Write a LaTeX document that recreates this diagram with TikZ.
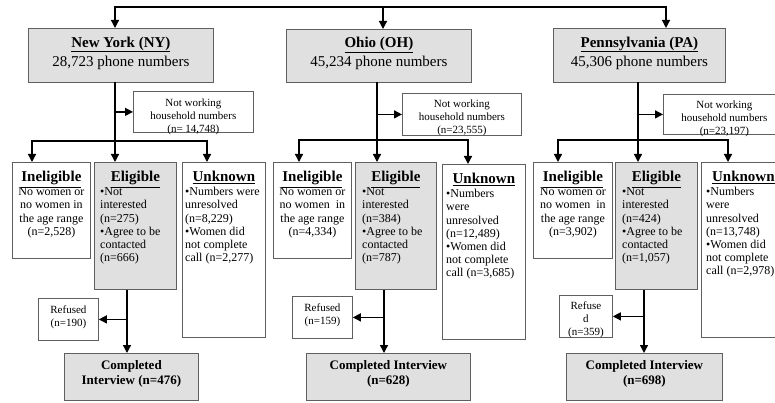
\documentclass[tikz,border=0pt]{standalone}
\usepackage{fontspec}
\setmainfont{Liberation Serif}
\usetikzlibrary{arrows.meta}
\definecolor{boxgray}{RGB}{224,224,224}
\definecolor{edgegray}{RGB}{95,95,95}
\begin{document}
\begin{tikzpicture}[x=1pt,y=-1pt,
  box/.style={draw=edgegray, line width=0.8pt, inner sep=0pt, anchor=north west},
  gbox/.style={box, fill=boxgray},
  conn/.style={line width=1.3pt, black, line cap=rect},
  arr/.style={line width=1.3pt, black, -{Triangle[length=8pt,width=8pt]}},
  ttl/.style={font=\fontsize{15}{19}\selectfont, align=center, inner sep=0pt},
  hd/.style={font=\fontsize{15}{18}\selectfont\bfseries, inner sep=0pt, anchor=base},
  bodyc/.style={font=\fontsize{12}{13.2}\selectfont, align=center, inner sep=0pt, anchor=north},
  bodyl/.style={font=\fontsize{12}{13.2}\selectfont, align=left, inner sep=0pt, anchor=north west},
  small/.style={font=\fontsize{11}{13}\selectfont, align=center, inner sep=0pt},
  done/.style={font=\fontsize{13}{15.5}\selectfont\bfseries, align=center, inner sep=0pt},
]
\useasboundingbox (0,0) rectangle (775,403);

% ---------- state boxes ----------
\node[gbox, minimum width=185pt, minimum height=54pt] (nyT) at (28,28) {};
\node[gbox, minimum width=185pt, minimum height=53pt] (ohT) at (286,29) {};
\node[gbox, minimum width=172pt, minimum height=54pt] (paT) at (553,28) {};
\node[ttl, yshift=2.5pt] (nyTt) at (nyT.center) {\textbf{\underline{New York (NY)}}\\28,723 phone numbers};
\node[ttl, yshift=2.5pt] (ohTt) at (ohT.center) {\textbf{\underline{Ohio (OH)}}\\45,234 phone numbers};
\node[ttl, yshift=2.5pt] (paTt) at (paT.center) {\textbf{\underline{Pennsylvania (PA)}}\\45,306 phone numbers};

% ---------- not working ----------
\node[box, minimum width=120pt, minimum height=41pt] (nyN) at (133,91) {};
\node[box, minimum width=119pt, minimum height=42pt] (ohN) at (402,93) {};
\node[box, minimum width=122pt, minimum height=40pt] (paN) at (663,94) {};
\node[small, yshift=-4.5pt] (nyNt) at (nyN.center) {Not working\\household numbers\\(n= 14,748)};
\node[small, yshift=-3.7pt] (ohNt) at (ohN.center) {Not working\\household numbers\\(n=23,555)};
\node[small, yshift=-4.2pt] (paNt) at (paN.center) {Not working\\household numbers\\(n=23,197)};

% ---------- NY categories ----------
\node[box, minimum width=78pt, minimum height=96pt] (nyI) at (12,162) {};
\node[gbox, minimum width=82pt, minimum height=127pt] (nyE) at (94,162) {};
\node[box, minimum width=83pt, minimum height=175pt] (nyU) at (182,162) {};
\node[hd] (nyIh) at ([yshift=-20pt]nyI.north) {\underline{Ineligible}};
\node[hd] (nyEh) at ([yshift=-20pt]nyE.north) {\underline{Eligible}};
\node[hd] (nyUh) at ([yshift=-20pt]nyU.north) {\underline{Unknown}};
\node[bodyc] (nyIb) at ([yshift=-24.3pt]nyI.north) {\strut No women or\\no women in\\the age range\\(n=2,528)};
\node[bodyl] (nyEb) at ([xshift=6pt,yshift=-24.3pt]nyE.north west) {\strut •Not\\interested\\(n=275)\\•Agree to be\\contacted\\(n=666)};
\node[bodyl] (nyUb) at ([xshift=3pt,yshift=-24.3pt]nyU.north west) {\strut •Numbers were\\unresolved\\(n=8,229)\\•Women did\\not complete\\call (n=2,277)};

% ---------- OH categories ----------
\node[box, minimum width=78pt, minimum height=96pt] (ohI) at (273,162) {};
\node[gbox, minimum width=81pt, minimum height=127pt] (ohE) at (355,162) {};
\node[box, minimum width=83pt, minimum height=175pt] (ohU) at (442,164) {};
\node[hd] (ohIh) at ([yshift=-20pt]ohI.north) {\underline{Ineligible}};
\node[hd] (ohEh) at ([yshift=-20pt]ohE.north) {\underline{Eligible}};
\node[hd] (ohUh) at ([yshift=-20pt]ohU.north) {\underline{Unknown}};
\node[bodyc] (ohIb) at ([yshift=-24.3pt]ohI.north) {\strut No women or\\no women\ \ in\\the age range\\(n=4,334)};
\node[bodyl] (ohEb) at ([xshift=7pt,yshift=-24.3pt]ohE.north west) {\strut •Not\\interested\\(n=384)\\•Agree to be\\contacted\\(n=787)};
\node[bodyl] (ohUb) at ([xshift=4pt,yshift=-24.3pt]ohU.north west) {\strut •Numbers\\were\\unresolved\\(n=12,489)\\•Women did\\not complete\\call (n=3,685)};

% ---------- PA categories ----------
\node[box, minimum width=79pt, minimum height=96pt] (paI) at (533,162) {};
\node[gbox, minimum width=82pt, minimum height=127pt] (paE) at (615,162) {};
\node[box, minimum width=84pt, minimum height=175pt] (paU) at (701,162) {};
\node[hd] (paIh) at ([yshift=-20pt]paI.north) {\underline{Ineligible}};
\node[hd] (paEh) at ([yshift=-20pt]paE.north) {\underline{Eligible}};
\node[hd] (paUh) at ([yshift=-20pt]paU.north) {\underline{Unknown}};
\node[bodyc] (paIb) at ([yshift=-24.3pt]paI.north) {\strut No women or\\no women\ \ in\\the age range\\(n=3,902)};
\node[bodyl] (paEb) at ([xshift=7pt,yshift=-24.3pt]paE.north west) {\strut •Not\\interested\\(n=424)\\•Agree to be\\contacted\\(n=1,057)};
\node[bodyl] (paUb) at ([xshift=5pt,yshift=-24.3pt]paU.north west) {\strut •Numbers\\were\\unresolved\\(n=13,748)\\•Women did\\not complete\\call (n=2,978)};

% ---------- refused ----------
\node[box, minimum width=60pt, minimum height=42pt] (nyR) at (38,298) {};
\node[box, minimum width=60pt, minimum height=42pt] (ohR) at (292,296) {};
\node[box, minimum width=53pt, minimum height=42pt] (paR) at (559,295) {};
\node[small, yshift=2.3pt] (nyRt) at (nyR.center) {Refused\\(n=190)};
\node[small, yshift=2pt] (ohRt) at (ohR.center) {Refused\\(n=159)};
\node[small, yshift=-3.5pt] (paRt) at (paR.center) {Refuse\\d\\(n=359)};

% ---------- completed ----------
\node[gbox, minimum width=134pt, minimum height=47pt] (nyD) at (64,353) {};
\node[gbox, minimum width=164pt, minimum height=47pt] (ohD) at (306,353) {};
\node[gbox, minimum width=156pt, minimum height=47pt] (paD) at (566,353) {};
\node[done, yshift=3pt] (nyDt) at (nyD.center) {Completed\\Interview (n=476)};
\node[done, yshift=3pt] (ohDt) at (ohD.center) {Completed Interview\\(n=628)};
\node[done, yshift=3pt] (paDt) at (paD.center) {Completed Interview\\(n=698)};

% ---------- connectors: top ----------
\coordinate (topL) at (115,7);
\coordinate (topM) at (383,7);
\coordinate (topR) at (666,7);
\draw[conn] (topL) -- (topR);
\draw[arr] (topL) -- (topL |- nyT.north);
\draw[arr] (topM) -- (topM |- ohT.north);
\draw[arr] (topR) -- (topR |- paT.north);

% ---------- NY ----------
\coordinate (nyB) at (115,141);
\coordinate (nyBL) at (32,141);
\coordinate (nyBR) at (207,141);
\draw[conn] (nyT.south -| nyB) -- (nyB);
\draw[arr] (nyB |- nyN.west) -- (nyN.west);
\draw[conn] (nyBL) -- (nyBR);
\draw[arr] (nyBL) -- (nyBL |- nyI.north);
\draw[arr] (nyB) -- (nyB |- nyE.north);
\draw[arr] (nyBR) -- (nyBR |- nyU.north);
\coordinate (nyV) at (127,318);
\draw[arr] (nyE.south -| nyV) -- (nyD.north -| nyV);
\draw[arr] (nyV |- nyR.east) -- (nyR.east);

% ---------- OH ----------
\coordinate (ohB) at (377,140);
\coordinate (ohBL) at (299,140);
\coordinate (ohBR) at (468,140);
\draw[conn] (ohT.south -| ohB) -- (ohB);
\draw[arr] (ohB |- ohN.west) -- (ohN.west);
\draw[conn] (ohBL) -- (ohBR);
\draw[arr] (ohBL) -- (ohBL |- ohI.north);
\draw[arr] (ohB) -- (ohB |- ohE.north);
\draw[arr] (ohBR) -- (ohBR |- ohU.north);
\coordinate (ohV) at (384,318);
\draw[arr] (ohE.south -| ohV) -- (ohD.north -| ohV);
\draw[arr] (ohV |- ohR.east) -- (ohR.east);

% ---------- PA ----------
\coordinate (paB) at (638,140);
\coordinate (paBL) at (558,140);
\coordinate (paBR) at (728,140);
\draw[conn] (paT.south -| paB) -- (paB);
\draw[arr] (paB |- paN.west) -- (paN.west);
\draw[conn] (paBL) -- (paBR);
\draw[arr] (paBL) -- (paBL |- paI.north);
\draw[arr] (paB) -- (paB |- paE.north);
\draw[arr] (paBR) -- (paBR |- paU.north);
\coordinate (paV) at (644,318);
\draw[arr] (paE.south -| paV) -- (paD.north -| paV);
\draw[arr] (paV |- paR.east) -- (paR.east);
\end{tikzpicture}
\end{document}
